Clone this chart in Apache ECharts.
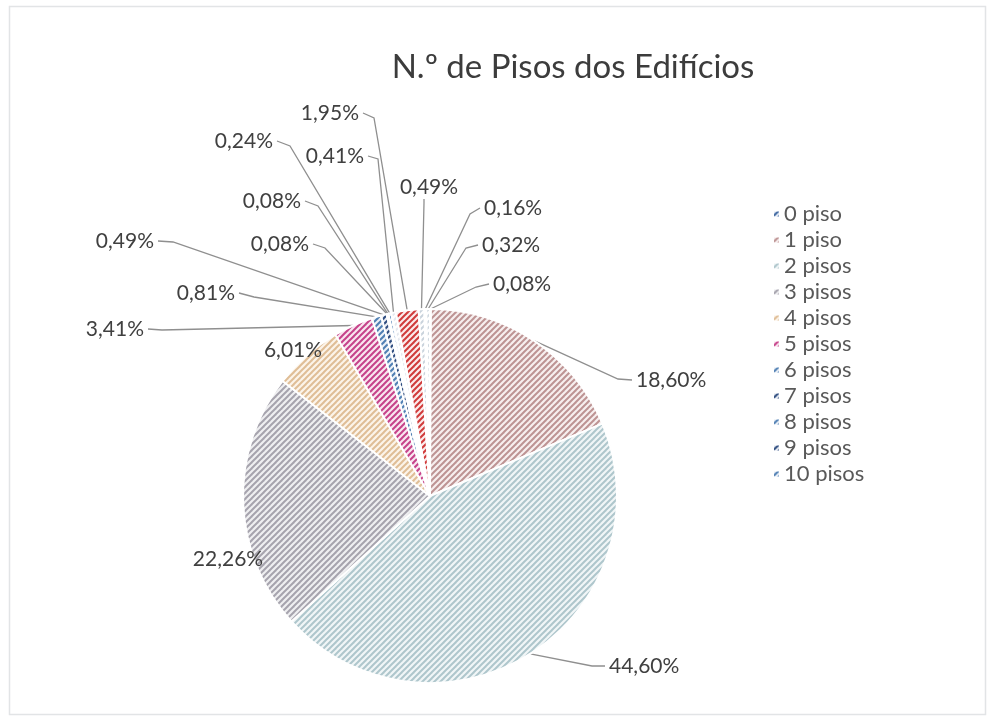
<!DOCTYPE html>
<html>
<head>
<meta charset="utf-8">
<script src="https://cdn.jsdelivr.net/npm/echarts@6/dist/echarts.min.js"></script>
<style>
  html, body { margin: 0; padding: 0; background: #fff; }
  #chart { width: 993px; height: 721px; }
</style>
</head>
<body>
<div id="chart"></div>
<script>
// Number of floors per building, share of the total (%)
const categories = ['0 piso', '1 piso', '2 pisos', '3 pisos', '4 pisos', '5 pisos',
  '6 pisos', '7 pisos', '8 pisos', '9 pisos', '10 pisos',
  '11 pisos', '12 pisos', '13 pisos', '14 pisos', '15 pisos'];
const shares = [0.08, 18.60, 44.60, 22.26, 6.01, 3.41,
  0.81, 0.49, 0.08, 0.08, 0.24,
  0.41, 1.95, 0.49, 0.16, 0.32];
const legendNames = categories.slice(0, 11);

// stripe colour / background colour for each slice
const stripeColors = ['#3d66a0', '#bd9393', '#aec6cc', '#a6a3ad', '#dfbd96', '#c6428a',
  '#4f7fb3', '#2d4b7e', '#4f7fb3', '#2d4b7e', '#4f7fb3',
  '#e4e8ee', '#d03a3a', '#c9d3dc', '#d6dde4', '#cfd8e0'];
const stripeBg = ['#e8eef6', '#f7efef', '#f1f6f7', '#efeff1', '#fcf4ea', '#f9e7f0',
  '#edf2f8', '#e9edf4', '#edf2f8', '#e9edf4', '#edf2f8',
  '#ffffff', '#fbecec', '#ffffff', '#ffffff', '#ffffff'];

// label placement: [anchor x, anchor y, align, elbow x, elbow y] ; null elbow = no leader line
const labelSpots = [
  [493, 284, 'left', 476, 287],
  [636, 380, 'left', 618, 379],
  [609, 666, 'left', 592, 666],
  [228, 559, 'center', null, null],
  [293, 350, 'center', null, null],
  [144, 329, 'right', 162, 330],
  [235, 293, 'right', 254, 297],
  [154, 241, 'right', 173, 242],
  [309, 244, 'right', 325, 248],
  [301, 201, 'right', 318, 206],
  [273, 141, 'right', 290, 146],
  [364, 156, 'right', 378, 159],
  [359, 113, 'right', 374, 118],
  [429, 187, 'center', 424, 203],
  [484, 208, 'left', 470, 214],
  [482, 245, 'left', 466, 248]
];

function stripes(fg, bg) {
  const c = document.createElement('canvas');
  c.width = 6; c.height = 6;
  const g = c.getContext('2d');
  g.fillStyle = bg;
  g.fillRect(0, 0, 6, 6);
  g.strokeStyle = fg;
  g.lineWidth = 2;
  for (const o of [-6, 0, 6]) {
    g.beginPath();
    g.moveTo(o - 1, 7);
    g.lineTo(o + 7, -1);
    g.stroke();
  }
  return { image: c, repeat: 'repeat' };
}

function fmt(v) {
  return v.toFixed(2).replace('.', ',') + '%';
}

const pieData = categories.map((name, i) => ({
  name: name,
  value: shares[i],
  itemStyle: { color: stripes(stripeColors[i], stripeBg[i]) },
  labelLine: { show: labelSpots[i][3] !== null }
}));

const chart = echarts.init(document.getElementById('chart'), null, { renderer: 'canvas' });

chart.setOption({
  backgroundColor: '#ffffff',
  animation: false,
  graphic: [{
    type: 'rect',
    shape: { x: 9.5, y: 6.5, width: 976, height: 708 },
    style: { fill: 'none', stroke: '#e2e4e6', lineWidth: 1.5 },
    silent: true
  }],
  title: {
    text: 'N.º de Pisos dos Edifícios',
    left: 568,
    top: 46,
    textAlign: 'center',
    textStyle: {
      fontFamily: 'Lato',
      fontSize: 33,
      fontWeight: 'normal',
      color: '#3c3c3c'
    }
  },
  legend: {
    data: legendNames,
    orient: 'vertical',
    left: 767,
    top: 198,
    itemWidth: 7,
    itemHeight: 7,
    itemGap: 4,
    icon: 'rect',
    textStyle: {
      fontFamily: 'Lato',
      fontSize: 22,
      lineHeight: 22,
      color: '#595959',
      padding: [0, 0, 0, -1]
    }
  },
  series: [{
    type: 'pie',
    center: [430, 496],
    radius: 187,
    startAngle: 90,
    clockwise: true,
    avoidLabelOverlap: false,
    data: pieData,
    itemStyle: { borderColor: '#ffffff', borderWidth: 2 },
    label: {
      show: true,
      position: 'outside',
      formatter: p => fmt(p.value),
      fontFamily: 'Lato',
      fontSize: 21,
      color: '#404040'
    },
    labelLine: {
      show: true,
      length: 10,
      length2: 10,
      lineStyle: { color: '#8f8f8f', width: 1.3 }
    },
    labelLayout: function (params) {
      const s = labelSpots[params.dataIndex];
      const out = { x: s[0], y: s[1], align: s[2], verticalAlign: 'middle' };
      const pts = params.labelLinePoints;
      if (s[3] !== null && pts) {
        let endX = s[2] === 'left' ? s[0] - 4 : s[2] === 'right' ? s[0] + 4 : s[3];
        let endY = s[2] === 'center' ? s[1] + 12 : s[1];
        out.labelLinePoints = [pts[0], [s[3], s[4]], [endX, endY]];
      }
      return out;
    },
    emphasis: { disabled: true }
  }]
});
</script>
</body>
</html>
